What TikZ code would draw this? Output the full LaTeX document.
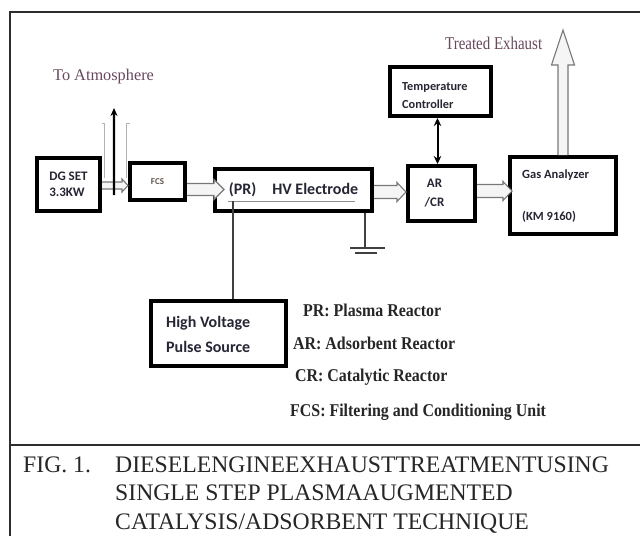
\documentclass[tikz,border=0pt]{standalone}
\usepackage{fontspec}
\setmainfont{Liberation Serif}
\newfontfamily\boxfont{Carlito}
\usetikzlibrary{calc,arrows.meta}
\definecolor{framec}{RGB}{45,45,45}
\definecolor{labc}{RGB}{38,38,52}
\definecolor{mauve}{RGB}{105,72,92}
\definecolor{flowc}{RGB}{120,120,120}
\newcommand\hflow[5]{%
  \draw[flow] let \p1=(#1), \p2=(#2) in
    (\x1,\y1+#3) -- (\x2-#5,\y1+#3) -- (\x2-#5,\y1+#4) -- (\x2,\y1)
    -- (\x2-#5,\y1-#4) -- (\x2-#5,\y1-#3) -- (\x1,\y1-#3);}
\newcommand\vflow[5]{%
  \draw[flow] let \p1=(#1), \p2=(#2) in
    (\x1-#3,\y1) -- (\x1-#3,\y2-#5) -- (\x1-#4,\y2-#5) -- (\x1,\y2)
    -- (\x1+#4,\y2-#5) -- (\x1+#3,\y2-#5) -- (\x1+#3,\y1);}
\begin{document}
\begin{tikzpicture}[x=1pt,y=-1pt,
  frame/.style={draw=framec,line width=2pt},
  blk/.style={draw=black,line width=4pt,fill=white,inner sep=0pt},
  blab/.style={font=\boxfont\bfseries,text=labc,inner sep=0pt},
  flow/.style={draw=flowc,line width=1.1pt,fill=black!4,line join=miter},
  wire/.style={draw=black!75,line width=1.2pt},
  legend/.style={font=\fontsize{18}{20}\selectfont\bfseries,text=black!85,anchor=west,inner sep=0pt},
  capt/.style={font=\fontsize{23.7}{28}\selectfont,text=black!85,anchor=base west,inner sep=0pt},
  note/.style={text=mauve,anchor=west,inner sep=0pt}]
\useasboundingbox (0,0) rectangle (640,536);
\fill[white] (0,0) rectangle (640,536);
% frame
\draw[frame] (640,12) -- (10,12) -- (10,536);
\draw[frame] (10,445) -- (640,445);
% blocks
\node[blk,minimum width=63pt,minimum height=53pt,blab,align=left,
  font=\boxfont\bfseries\fontsize{13}{16}\selectfont] (dg) at (68.5,184.5) {DG SET\\3.3KW};
\node[blk,minimum width=55pt,minimum height=37pt,blab,
  font=\boxfont\bfseries\fontsize{9}{10}\selectfont,text={rgb,255:red,95;green,85;blue,75}] (fcs) at (157.5,181.5) {FCS};
\node[blk,minimum width=157pt,minimum height=42pt,blab,
  font=\boxfont\bfseries\fontsize{16}{18}\selectfont] (pr) at (293.5,190) {(PR)\hspace{16pt}HV Electrode};
\node[blk,minimum width=67pt,minimum height=55pt] (ar) at (441.5,193.5) {};
\node[blk,minimum width=101pt,minimum height=49pt] (tc) at (440.5,91.5) {};
\node[blk,minimum width=106pt,minimum height=77pt] (ga) at (563,195.5) {};
\node[blk,minimum width=135pt,minimum height=65pt] (hv) at (218.5,333.5) {};
% block labels
\node[blab,align=center,font=\boxfont\bfseries\fontsize{13}{19}\selectfont] (arl) at (434.5,193.5) {AR\\/CR};
\node[blab,align=left,anchor=west,font=\boxfont\bfseries\fontsize{12.3}{18}\selectfont] (tcl) at (402,96) {Temperature\\Controller};
\node[blab,anchor=west,font=\boxfont\bfseries\fontsize{12.5}{14}\selectfont] (gal1) at (522,175) {Gas Analyzer};
\node[blab,anchor=west,font=\boxfont\bfseries\fontsize{12.5}{14}\selectfont] (gal2) at (522,217) {(KM 9160)};
\node[blab,align=left,anchor=west,font=\boxfont\bfseries\fontsize{16}{25}\selectfont] (hvl) at (166,334.5) {High Voltage\\Pulse Source};
% hollow flow arrows
\hflow{[yshift=-1pt]dg.east}{fcs.west}{3.5pt}{6.5pt}{6pt}
\hflow{[yshift=-8pt]fcs.east}{[xshift=11pt]pr.west}{6pt}{10pt}{10pt}
\hflow{[yshift=-2pt]pr.east}{ar.west}{6.5pt}{9.5pt}{9pt}
\hflow{[yshift=2.5pt]ar.east}{[xshift=4pt]ga.west}{6.5pt}{9.5pt}{9pt}
\coordinate (treated) at (563,30);
\vflow{ga.north}{treated}{5pt}{11.5pt}{35pt}
% exhaust to atmosphere
\draw[draw=black!30,line width=1pt] (102,123) -- (104.5,123) -- (104.5,178);
\draw[draw=black!30,line width=1pt] (130,123) -- (126,123) -- (126,178);
\coordinate (atmo) at (114,108);
\draw[line width=2.2pt,-{Stealth[length=8pt,width=7pt]}] ([yshift=-12pt]$(dg.east)!0.46!(fcs.west)$) -- (atmo);
% temperature controller link
\draw[line width=2pt,{Stealth[length=8pt,width=7.5pt]}-{Stealth[length=8pt,width=7.5pt]}] (tc.south -| arl) ++(3pt,0) coordinate (tcs) -- (tcs |- ar.north);
% electrode line and HV feed
\coordinate (ul1) at ($(pr.west)+(15,11)$);
\coordinate (ul2) at ($(pr.east)+(-19,11)$);
\draw[draw=black!45,line width=1pt] (ul1) -- (ul2);
\coordinate (tap) at ($(ul1)+(5,0)$);
\draw[wire] (tap) -- (tap |- hv.north);
% ground
\coordinate (gnd) at (365,248);
\draw[wire] (gnd |- pr.south) -- (gnd);
\draw[wire] ($(gnd)+(-15,0)$) -- ($(gnd)+(20,0)$);
\draw[wire] ($(gnd)+(-10,5)$) -- ($(gnd)+(12,5)$);
% texts
\node[note,font=\fontsize{16.3}{18}\selectfont] (atmt) at (53,77) {To Atmosphere};
\node[note,font=\fontsize{18}{20}\selectfont] (trt) at (445,43) {\scalebox{0.83}[1]{Treated Exhaust}};
\node[legend] (l1) at (303,310) {\scalebox{0.885}[1]{PR: Plasma Reactor}};
\node[legend] (l2) at (293,343) {\scalebox{0.885}[1]{AR: Adsorbent Reactor}};
\node[legend] (l3) at (295,377) {\scalebox{0.885}[1]{CR: Catalytic Reactor}};
\node[legend] (l4) at (290,412) {\scalebox{0.885}[1]{FCS: Filtering and Conditioning Unit}};
% caption
\node[capt] (c0) at (23,472) {FIG. 1.};
\node[capt] (c1) at (115,472) {DIESELENGINEEXHAUSTTREATMENTUSING};
\node[capt] (c2) at (115,500.5) {SINGLE STEP PLASMAAUGMENTED};
\node[capt] (c3) at (115,529) {CATALYSIS/ADSORBENT TECHNIQUE};
\end{tikzpicture}
\end{document}
